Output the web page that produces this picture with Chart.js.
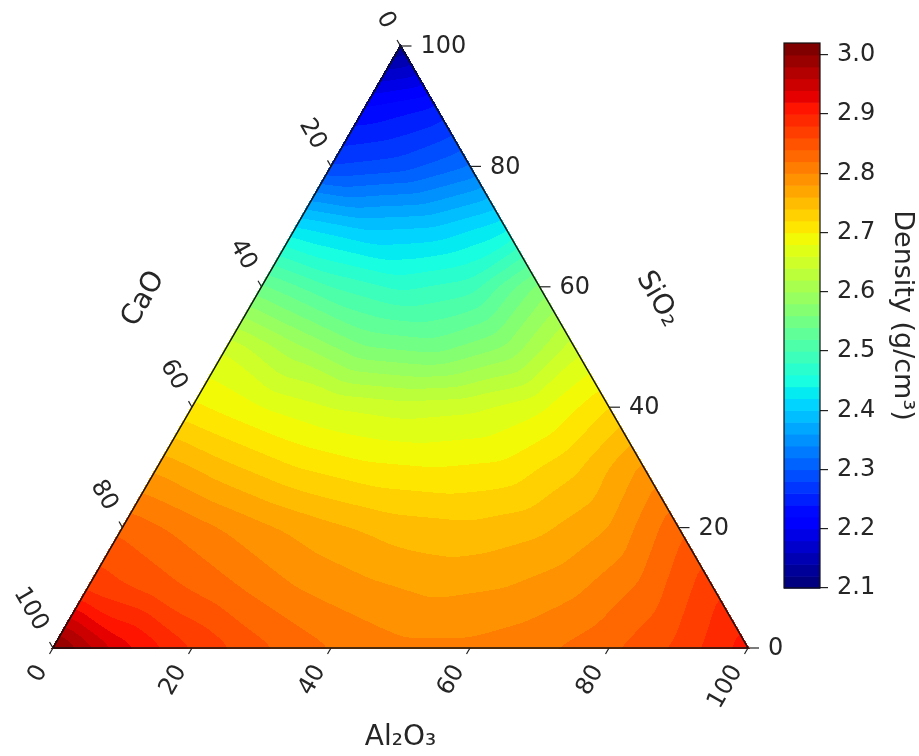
<!DOCTYPE html>
<html><head><meta charset="utf-8">
<script src="https://cdn.jsdelivr.net/npm/chart.js@4"></script>
<style>
html,body{margin:0;padding:0;background:#fff;}
#wrap{position:relative;width:919px;height:756px;overflow:hidden;}
#main{position:absolute;left:0;top:0;}
#cbar{position:absolute;left:760px;top:0;}
</style></head><body>
<div id="wrap"><canvas id="main" width="919" height="756"></canvas><canvas id="cbar" width="159" height="756"></canvas></div>
<script>
// Density (g/cm3) read on a 10 wt% grid. One row per SiO2 level,
// entries run over Al2O3 = 0,10,20,... ; CaO is the remainder.
const siO2Levels = [0,10,20,30,40,50,60,70,80,90,100];
const densityS0   = [3.01, 2.93, 2.88, 2.845, 2.82, 2.805, 2.805, 2.815, 2.835, 2.865, 2.91];
const densityS10  = [2.875, 2.85, 2.825, 2.80, 2.785, 2.775, 2.78, 2.795, 2.825, 2.875];
const densityS20  = [2.835, 2.81, 2.785, 2.765, 2.75, 2.745, 2.755, 2.78, 2.835];
const densityS30  = [2.775, 2.745, 2.72, 2.705, 2.70, 2.705, 2.735, 2.785];
const densityS40  = [2.705, 2.68, 2.66, 2.65, 2.655, 2.675, 2.72];
const densityS50  = [2.655, 2.605, 2.56, 2.55, 2.58, 2.65];
const densityS60  = [2.545, 2.50, 2.475, 2.49, 2.567];
const densityS70  = [2.42, 2.395, 2.40, 2.43];
const densityS80  = [2.28, 2.29, 2.32];
const densityS90  = [2.22, 2.24];
const densityS100 = [2.12];
const densityRows = [densityS0, densityS10, densityS20, densityS30, densityS40, densityS50,
                     densityS60, densityS70, densityS80, densityS90, densityS100];

const axisTicks = [0, 20, 40, 60, 80, 100];
const colorbarTicks = [2.1, 2.2, 2.3, 2.4, 2.5, 2.6, 2.7, 2.8, 2.9, 3.0];
const levelMin = 2.10, levelStep = 0.02, levelCount = 47; // contour levels 2.10 ... 3.02
const contourLevels = Array.from({length: levelCount}, (_, i) => +(levelMin + levelStep * i).toFixed(2));

const axisNames = { bottom: 'Al\u2082O\u2083', left: 'CaO', right: 'SiO\u2082' };
const cbTitle = 'Density (g/cm\u00b3)';

const FONT = 'DejaVu Sans';
const TXT = '#262626';
const H3 = Math.sqrt(3) / 2;

// matplotlib "jet"
const jetData = {
  r: [[0,0],[0.35,0],[0.66,1],[0.89,1],[1,0.5]],
  g: [[0,0],[0.125,0],[0.375,1],[0.64,1],[0.91,0],[1,0]],
  b: [[0,0.5],[0.11,1],[0.34,1],[0.65,0],[1,0]]
};
function seg(pts, t) {
  for (let i = 1; i < pts.length; i++) {
    if (t <= pts[i][0]) {
      const [t0, v0] = pts[i-1], [t1, v1] = pts[i];
      return v0 + (v1 - v0) * (t - t0) / (t1 - t0);
    }
  }
  return pts[pts.length-1][1];
}
function jet(t) {
  return [Math.round(255*seg(jetData.r,t)), Math.round(255*seg(jetData.g,t)), Math.round(255*seg(jetData.b,t))];
}
const nBands = levelCount - 1;
const bandColors = Array.from({length: nBands}, (_, k) => jet(k / (nBands - 1)));

function densityAt(a, s) {
  a = Math.max(0, a); s = Math.max(0, s);
  if (a + s > 100) { const k = 100 / (a + s); a *= k; s *= k; }
  const si = s / 10, ai = a / 10;
  const i = Math.min(Math.floor(si), 9);
  let j = Math.max(0, Math.min(Math.floor(ai), 9 - i));
  let fs = si - i, fa = ai - j;
  const V = (ii, jj) => densityRows[ii][jj];
  if (fs + fa <= 1 || i + j >= 9) {
    if (fs + fa > 1) { const k = fs + fa; fs /= k; fa /= k; }
    return V(i,j)*(1-fs-fa) + V(i+1,j)*fs + V(i,j+1)*fa;
  }
  return V(i+1,j+1)*(fs+fa-1) + V(i+1,j)*(1-fa) + V(i,j+1)*(1-fs);
}
function bandIndex(v) {
  let k = Math.floor((v - levelMin) / levelStep + 1e-9);
  return Math.max(0, Math.min(nBands - 1, k));
}
function boxBlur(src, W, H, r) {
  const tmp = new Float32Array(W * H), n = 2 * r + 1;
  for (let yy = 0; yy < H; yy++) {
    const row = yy * W; let acc = 0;
    for (let xx = -r; xx <= r; xx++) acc += src[row + Math.min(W-1, Math.max(0, xx))];
    for (let xx = 0; xx < W; xx++) {
      tmp[row + xx] = acc / n;
      acc += src[row + Math.min(W-1, xx + r + 1)] - src[row + Math.max(0, xx - r)];
    }
  }
  for (let xx = 0; xx < W; xx++) {
    let acc = 0;
    for (let yy = -r; yy <= r; yy++) acc += tmp[Math.min(H-1, Math.max(0, yy)) * W + xx];
    for (let yy = 0; yy < H; yy++) {
      src[yy * W + xx] = acc / n;
      acc += tmp[Math.min(H-1, yy + r + 1) * W + xx] - tmp[Math.max(0, yy - r) * W + xx];
    }
  }
}

const fieldPlugin = {
  id: 'field',
  beforeDatasetsDraw(chart) {
    const {ctx, chartArea: ca, scales: {x, y}} = chart;
    const M = 30;
    const L = Math.floor(ca.left) - M, T = Math.floor(ca.top) - M;
    const W = Math.ceil(ca.right) - L + M, H = Math.ceil(ca.bottom) - T + M;
    const val = new Float32Array(W * H);
    const inside = new Uint8Array(W * H);
    for (let py = 0; py < H; py++) {
      const s = y.getValueForPixel(T + py + 0.5) / H3;
      for (let px = 0; px < W; px++) {
        const a = x.getValueForPixel(L + px + 0.5) - s / 2, c = 100 - a - s;
        const o = py * W + px;
        val[o] = densityAt(a, s);
        const tol = -0.2;
        inside[o] = (s >= tol && a >= tol && c >= tol) ? 1 : 0;
      }
    }
    for (let p = 0; p < 3; p++) boxBlur(val, W, H, 6);
    const off = document.createElement('canvas'); off.width = W; off.height = H;
    const octx = off.getContext('2d');
    const img = octx.createImageData(W, H);
    const d = img.data;
    for (let o = 0; o < W * H; o++) {
      if (!inside[o]) continue;
      const col = bandColors[bandIndex(val[o])];
      d[o*4] = col[0]; d[o*4+1] = col[1]; d[o*4+2] = col[2]; d[o*4+3] = 255;
    }
    octx.putImageData(img, 0, 0);
    ctx.drawImage(off, L, T);
  },
  afterDatasetsDraw(chart) {
    const {ctx, scales: {x, y}} = chart;
    const P = (a, s) => ({x: x.getPixelForValue(a + s/2), y: y.getPixelForValue(s * H3)});
    ctx.save();
    const A = P(0,0), B = P(100,0), C = P(0,100);
    ctx.beginPath(); ctx.moveTo(A.x, A.y); ctx.lineTo(B.x, B.y); ctx.lineTo(C.x, C.y); ctx.closePath();
    ctx.strokeStyle = '#111'; ctx.lineWidth = 1.5; ctx.lineJoin = 'miter'; ctx.stroke();

    ctx.fillStyle = TXT; ctx.strokeStyle = '#222'; ctx.lineWidth = 1.2;
    ctx.font = `24px "${FONT}"`;
    const tickLen = 7, labOff = 22;
    const dB = {x: -0.5, y: H3};
    axisTicks.forEach(v => {
      const p = P(v, 0);
      ctx.beginPath(); ctx.moveTo(p.x, p.y); ctx.lineTo(p.x + dB.x*tickLen, p.y + dB.y*tickLen); ctx.stroke();
      ctx.save();
      ctx.translate(p.x + dB.x*labOff, p.y + dB.y*labOff);
      ctx.rotate(-Math.PI/3);
      ctx.textAlign = 'right'; ctx.textBaseline = 'middle';
      ctx.fillText(String(v), 0, 0);
      ctx.restore();
    });
    const dL = {x: -0.5, y: -H3};
    axisTicks.forEach(v => {
      const p = P(0, 100 - v);
      ctx.beginPath(); ctx.moveTo(p.x, p.y); ctx.lineTo(p.x + dL.x*tickLen, p.y + dL.y*tickLen); ctx.stroke();
      ctx.save();
      ctx.translate(p.x + dL.x*labOff, p.y + dL.y*labOff);
      ctx.rotate(Math.PI/3);
      ctx.textAlign = 'right'; ctx.textBaseline = 'middle';
      ctx.fillText(String(v), 0, 0);
      ctx.restore();
    });
    axisTicks.forEach(v => {
      const p = P(100 - v, v);
      ctx.beginPath(); ctx.moveTo(p.x, p.y); ctx.lineTo(p.x + 11, p.y); ctx.stroke();
      ctx.textAlign = 'left'; ctx.textBaseline = 'middle';
      ctx.fillText(String(v), p.x + 20, p.y + 1);
    });
    ctx.font = `28px "${FONT}"`;
    ctx.textAlign = 'center'; ctx.textBaseline = 'middle';
    const mB = P(50, 0);
    ctx.fillText(axisNames.bottom, mB.x, mB.y + 90);
    const mL = P(0, 50);
    ctx.save(); ctx.translate(mL.x - H3*96, mL.y - 0.5*96); ctx.rotate(-Math.PI/3);
    ctx.fillText(axisNames.left, 0, 0); ctx.restore();
    const mR = P(50, 50);
    ctx.save(); ctx.translate(mR.x + H3*96, mR.y - 0.5*96); ctx.rotate(Math.PI/3);
    ctx.fillText(axisNames.right, 0, 0); ctx.restore();
    ctx.restore();
  }
};

new Chart(document.getElementById('main'), {
  type: 'scatter',
  data: { datasets: [{ data: [], pointRadius: 0 }] },
  options: {
    responsive: false, animation: false, devicePixelRatio: 1,
    layout: { padding: { left: 53, right: 171, top: 46, bottom: 108 } },
    plugins: { legend: { display: false }, tooltip: { enabled: false } },
    scales: {
      x: { display: false, min: 0, max: 100 },
      y: { display: false, min: 0, max: 100 * H3 }
    }
  },
  plugins: [fieldPlugin]
});

const colorbarPlugin = {
  id: 'cbarFill',
  beforeDatasetsDraw(chart) {
    const {ctx, chartArea: ca, scales: {y}} = chart;
    ctx.save();
    for (let k = 0; k < nBands; k++) {
      const y1 = y.getPixelForValue(contourLevels[k]);
      const y2 = y.getPixelForValue(contourLevels[k+1]);
      const c = bandColors[k];
      ctx.fillStyle = `rgb(${c[0]},${c[1]},${c[2]})`;
      ctx.fillRect(ca.left, y2, ca.right - ca.left, y1 - y2 + 0.6);
    }
    ctx.strokeStyle = '#111'; ctx.lineWidth = 1.2;
    const yt = y.getPixelForValue(contourLevels[levelCount-1]), yb = y.getPixelForValue(contourLevels[0]);
    ctx.strokeRect(ca.left, yt, ca.right - ca.left, yb - yt);
    ctx.restore();
  }
};

new Chart(document.getElementById('cbar'), {
  type: 'scatter',
  data: { datasets: [{ data: [], pointRadius: 0 }] },
  options: {
    responsive: false, animation: false, devicePixelRatio: 1,
    layout: { padding: { left: 24, right: 0, top: 43, bottom: 168 } },
    plugins: { legend: { display: false }, tooltip: { enabled: false } },
    scales: {
      x: { display: false, min: 0, max: 1 },
      y: {
        position: 'right', min: contourLevels[0], max: contourLevels[levelCount-1],
        afterFit(s) { s.width = 99; },
        afterBuildTicks(s) { s.ticks = colorbarTicks.map(v => ({ value: v })); },
        ticks: { callback: v => Number(v).toFixed(1), font: { family: FONT, size: 24 }, color: TXT, padding: 9 },
        grid: { drawOnChartArea: false, tickLength: 8, color: '#222', lineWidth: 1.2 },
        border: { display: false },
        title: { display: true, text: cbTitle, font: { family: FONT, size: 27 }, color: TXT, padding: { top: 1, bottom: 0 } }
      }
    }
  },
  plugins: [colorbarPlugin]
});
</script>
</body></html>
